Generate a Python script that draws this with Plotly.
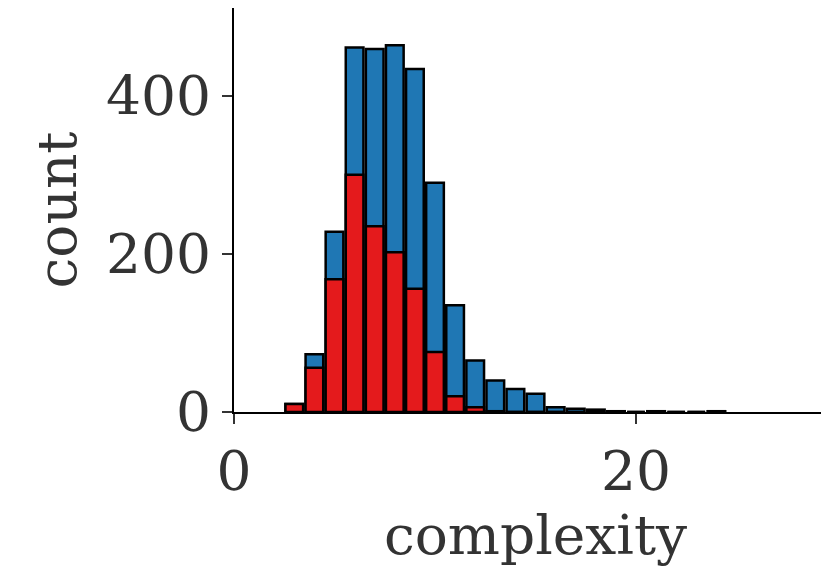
import plotly.graph_objects as go

bins = list(range(3, 25))
total = [10, 73, 228, 461, 459, 464, 434, 290, 135, 65, 40, 29, 23, 6, 4, 3, 1, 0, 1, 0, 0, 1]
subset = [10, 56, 168, 300, 235, 202, 156, 76, 20, 6, 1, 0, 0, 0, 0, 0, 0, 0, 0, 0, 0, 0]

fig = go.Figure()
fig.add_bar(x=bins, y=total, marker=dict(color="#1f77b4", line=dict(color="black", width=2.5)))
fig.add_bar(x=bins, y=subset, marker=dict(color="#e41a1c", line=dict(color="black", width=2.5)))
font = dict(family="DejaVu Serif", size=55, color="#333333")
fig.update_layout(
    width=829, height=570, barmode="overlay", bargap=0.12, showlegend=False,
    plot_bgcolor="white", paper_bgcolor="white",
    margin=dict(l=226, r=0, t=0, b=166, autoexpand=False), font=font,
)
fig.update_xaxes(range=[0, 30], tickvals=[0, 20], showline=True, linecolor="black", linewidth=2,
                 ticks="outside", ticklen=10, tickwidth=2, tickcolor="#333333", showgrid=False, zeroline=False,
                 automargin=False, title=dict(text="complexity", font=font, standoff=8))
fig.update_yaxes(range=[0, 511], tickvals=[0, 200, 400], showline=True, linecolor="black", linewidth=2,
                 ticks="outside", ticklen=10, tickwidth=2, tickcolor="#333333", showgrid=False, zeroline=False,
                 automargin=False, title=dict(text="count", font=font, standoff=12))
fig.write_html("out.html")
